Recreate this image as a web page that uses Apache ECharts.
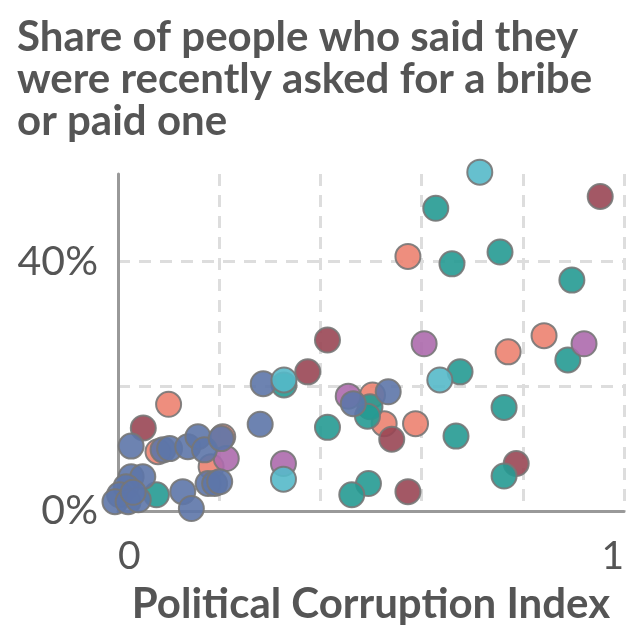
<!DOCTYPE html>
<html>
<head>
<meta charset="utf-8">
<script src="https://cdn.jsdelivr.net/npm/echarts@6/dist/echarts.min.js"></script>
<style>
	html, body {
		margin: 0;
		padding: 0;
		background: #fff;
	}

	#chart {
		width: 640px;
		height: 640px;
	}
</style>
</head>
<body>
<div id="chart"></div>
<script>
	// 每组点: [腐败指数, 行贿比例%]
	var bluePts = [[0.287, 20.4], [0.281, 13.9], [0.465, 17.2], [0.534, 19.1],
		[0.026, 10.4], [0.089, 9.8], [0.102, 10.0], [0.138, 10.3], [0.158, 11.9], [0.171, 9.8], [0.204, 11.6],
		[0.178, 4.4], [0.191, 4.4], [0.201, 4.7], [0.128, 3.1], [0.145, 0.4],
		[0.026, 5.5], [0.049, 5.5], [0.016, 3.9], [0.003, 2.6], [-0.006, 1.5], [0.020, 1.5], [0.040, 1.8], [0.030, 3.0]];
	var tealPts = [[0.628, 48.5], [0.660, 39.6], [0.755, 41.5], [0.897, 37.0], [0.889, 24.2], [0.676, 22.3],
		[0.498, 16.7], [0.493, 15.2], [0.668, 12.0], [0.763, 16.6], [0.763, 5.6], [0.495, 4.4], [0.462, 2.6],
		[0.414, 13.4], [0.328, 20.2], [0.076, 2.6]];
	var salmonPts = [[0.573, 40.8], [0.771, 25.5], [0.842, 28.1], [0.503, 18.6], [0.526, 14.0], [0.588, 14.0],
		[0.100, 17.1], [0.079, 9.5], [0.207, 11.9], [0.184, 7.1]];
	var redPts = [[0.953, 50.4], [0.414, 27.4], [0.375, 22.3], [0.541, 11.5], [0.787, 7.6], [0.573, 3.1], [0.050, 13.3]];
	var purplePts = [[0.605, 26.8], [0.921, 26.8], [0.455, 18.4], [0.327, 7.6], [0.214, 8.4]];
	var cyanPts = [[0.715, 54.3], [0.636, 21.0], [0.328, 21.0], [0.327, 5.1]];

	var xLabels = [0, 1];
	var yLabels = [0, 40];

	var groups = [
		{ data: salmonPts, color: '#ec8270' },
		{ data: redPts, color: '#994654' },
		{ data: tealPts, color: '#259a92' },
		{ data: purplePts, color: '#ad6aad' },
		{ data: bluePts, color: '#5d76a8' },
		{ data: cyanPts, color: '#55b9c9' }
	];

	var series = [];
	for (var i = 0; i < groups.length; i++) {
		series.push({
			type: 'scatter',
			data: groups[i].data,
			symbolSize: 25,
			clip: false,
			itemStyle: {
				color: groups[i].color,
				opacity: 0.9,
				borderColor: '#777',
				borderWidth: 2
			}
		});
	}

	var chart = echarts.init(document.getElementById('chart'));
	var option = {
		backgroundColor: '#fff',
		animation: false,
		textStyle: { fontFamily: 'Lato' },
		title: {
			text: 'Share of people who said they\nwere recently asked for a bribe\nor paid one',
			left: 12,
			top: 11,
			textStyle: {
				fontFamily: 'Lato',
				fontWeight: 'bold',
				fontSize: 42,
				lineHeight: 42,
				color: '#555'
			}
		},
		grid: { left: 118, right: 16, top: 174, bottom: 129 },
		xAxis: {
			type: 'value',
			min: 0,
			max: 1,
			interval: 0.2,
			name: 'Political Corruption Index',
			nameLocation: 'middle',
			nameGap: 72,
			nameTextStyle: { fontFamily: 'Lato', fontWeight: 'bold', fontSize: 42, color: '#555' },
			axisLine: { lineStyle: { color: '#999', width: 3 } },
			axisTick: { show: false },
			axisLabel: {
				margin: 26,
				fontSize: 39,
				color: '#555',
				alignMinLabel: 'left',
				alignMaxLabel: 'right',
				formatter: function (v) { return xLabels.indexOf(v) >= 0 ? String(v) : ''; }
			},
			splitLine: { show: true, showMinLine: false, lineStyle: { color: '#ddd', width: 3, type: [12, 9] } }
		},
		yAxis: {
			type: 'value',
			min: 0,
			max: 54,
			interval: 20,
			axisLine: { show: true, lineStyle: { color: '#999', width: 3 } },
			axisTick: { show: false },
			axisLabel: {
				margin: 20,
				fontSize: 41,
				color: '#555',
				showMaxLabel: false,
				formatter: function (v) { return yLabels.indexOf(v) >= 0 ? v + '%' : ''; }
			},
			splitLine: { show: true, showMinLine: false, showMaxLine: false, lineStyle: { color: '#ddd', width: 3, type: [12, 9] } }
		},
		series: series
	};
	chart.setOption(option);
</script>
</body>
</html>
